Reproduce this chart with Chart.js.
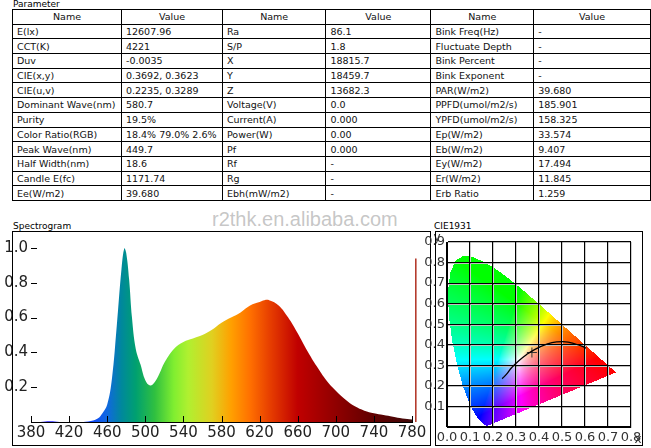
<!DOCTYPE html>
<html>
<head>
<meta charset="utf-8">
<script src="https://cdn.jsdelivr.net/npm/chart.js@4.4.0/dist/chart.umd.min.js"></script>
<style>
  body { margin: 0; width: 651px; height: 448px; background: #fff; position: relative; overflow: hidden; font-family: "DejaVu Sans", Verdana, sans-serif; }
  .lbl { position: absolute; font-size: 9px; color: #000; }
  table { position: absolute; left: 12px; top: 9px; border-collapse: collapse; font-size: 9.5px; }
  td, th { border: 1px solid #000; height: 13.7px; padding: 0 4px; white-space: nowrap; font-weight: normal; text-align: left; color: #111; }
  th { text-align: center; }
  .box { position: absolute; border: 1px solid #000; pointer-events: none; }
  canvas { position: absolute; }
  #wm { position: absolute; left: 212px; top: 208px; font-size: 20px; color: rgba(150,150,150,0.55); font-family: "Liberation Sans", Arial, sans-serif; }
</style>
</head>
<body>
<div class="lbl" style="left:13px;top:-1px">Parameter</div>
<table id="tbl"></table>

<div class="lbl" style="left:13px;top:221px">Spectrogram</div>
<div id="wm">r2thk.en.alibaba.com</div>
<div id="specWrap" style="position:absolute;left:0;top:231px;width:430px;height:214px"><canvas id="spec"></canvas></div>
<div class="box" style="left:12px;top:231px;width:417px;height:213px"></div>

<div class="lbl" style="left:434px;top:221px">CIE1931</div>
<div id="cieWrap" style="position:absolute;left:420px;top:231px;width:231px;height:217px"><canvas id="cie"></canvas></div>
<div class="box" style="left:435px;top:231px;width:206px;height:213px"></div>

<script>
// ---- table data
const colWidths = [100, 92, 95, 97, 94, 109];
const headers = ["Name", "Value", "Name", "Value", "Name", "Value"];
const rows = [
  ["E(lx)", "12607.96", "Ra", "86.1", "Bink Freq(Hz)", "-"],
  ["CCT(K)", "4221", "S/P", "1.8", "Fluctuate Depth", "-"],
  ["Duv", "-0.0035", "X", "18815.7", "Bink Percent", "-"],
  ["CIE(x,y)", "0.3692, 0.3623", "Y", "18459.7", "Bink Exponent", "-"],
  ["CIE(u,v)", "0.2235, 0.3289", "Z", "13682.3", "PAR(W/m2)", "39.680"],
  ["Dominant Wave(nm)", "580.7", "Voltage(V)", "0.0", "PPFD(umol/m2/s)", "185.901"],
  ["Purity", "19.5%", "Current(A)", "0.000", "YPFD(umol/m2/s)", "158.325"],
  ["Color Ratio(RGB)", "18.4% 79.0% 2.6%", "Power(W)", "0.00", "Ep(W/m2)", "33.574"],
  ["Peak Wave(nm)", "449.7", "Pf", "0.000", "Eb(W/m2)", "9.407"],
  ["Half Width(nm)", "18.6", "Rf", "-", "Ey(W/m2)", "17.494"],
  ["Candle E(fc)", "1171.74", "Rg", "-", "Er(W/m2)", "11.845"],
  ["Ee(W/m2)", "39.680", "Ebh(mW/m2)", "-", "Erb Ratio", "1.259"]
];

// ---- spectrum data
const wavelengths = [380,390,400,410,420,430,440,450,455,460,465,470,475,478,480,483,486,490,495,500,505,510,515,520,530,540,550,560,570,580,590,600,610,620,625,630,640,650,660,670,680,690,700,710,720,730,740,750,760,770,780];
const intensity =   [0,0,0.004,0,0,0,0.003,0.02,0.05,0.1,0.25,0.55,0.88,1.0,0.97,0.82,0.6,0.42,0.33,0.24,0.21,0.23,0.28,0.34,0.42,0.46,0.48,0.5,0.53,0.57,0.6,0.63,0.67,0.69,0.70,0.70,0.67,0.6,0.51,0.41,0.32,0.24,0.18,0.13,0.09,0.065,0.05,0.04,0.03,0.02,0.015];
const markerLine = [{x: 784, y: 0}, {x: 784, y: 0.94}];
const specTicks = [380,420,460,500,540,580,620,660,700,740,780];

// ---- CIE data
const locusX = [0.1741,0.1714,0.1644,0.1566,0.1440,0.1355,0.1241,0.1096,0.0913,0.0687,0.0454,0.0235,0.0082,0.0039,0.0139,0.0389,0.0743,0.1142,0.1547,0.1929,0.2296,0.2658,0.3016,0.3373,0.3731,0.4087,0.4441,0.4788,0.5125,0.5448,0.5752,0.6029,0.6270,0.6482,0.6658,0.6915,0.7079,0.7190,0.7260,0.7347];
const locusY = [0.0050,0.0051,0.0109,0.0177,0.0297,0.0399,0.0578,0.0868,0.1327,0.2007,0.2950,0.4127,0.5384,0.6548,0.7502,0.8120,0.8338,0.8262,0.8059,0.7816,0.7543,0.7243,0.6923,0.6589,0.6245,0.5896,0.5547,0.5202,0.4866,0.4544,0.4242,0.3965,0.3725,0.3514,0.3340,0.3083,0.2920,0.2809,0.2740,0.2653];
const planckX = [0.2400,0.2580,0.2807,0.3135,0.3451,0.3805,0.4369,0.4769,0.5266,0.5857,0.6050];
const planckY = [0.2350,0.2560,0.2884,0.3236,0.3516,0.3768,0.4041,0.4137,0.4133,0.3931,0.3840];
const measured = [{x: 0.3692, y: 0.3623}];

// build table
const tbl = document.getElementById('tbl');
let html = '<tr>' + headers.map((h, i) => `<th style="width:${colWidths[i]}px">${h}</th>`).join('') + '</tr>';
rows.forEach(r => { html += '<tr>' + r.map(c => `<td>${c}</td>`).join('') + '</tr>'; });
tbl.innerHTML = html;

const tickFont = { family: 'DejaVu Sans', size: 15 };

// spectrum fill gradient along the wavelength axis
function spectrumFill(context) {
  const chart = context.chart;
  const area = chart.chartArea;
  if (!area) return '#888';
  const xs = chart.scales.x;
  const g = chart.ctx.createLinearGradient(xs.getPixelForValue(380), 0, xs.getPixelForValue(780), 0);
  const stops = [[380,'#3010ff'],[440,'#1040ff'],[460,'#1068e0'],[475,'#00889c'],[490,'#00a070'],[510,'#30c040'],[530,'#80ee30'],[545,'#b0f030'],[570,'#e0d020'],[590,'#ffa000'],[610,'#ff7000'],[630,'#e84000'],[660,'#c00000'],[700,'#900000'],[740,'#600000'],[780,'#400808']];
  stops.forEach(s => g.addColorStop((s[0] - 380) / 400, s[1]));
  return g;
}

// inward tick marks like the original
const innerTicks = {
  id: 'innerTicks',
  afterDraw(chart) {
    const ctx = chart.ctx, xs = chart.scales.x, ys = chart.scales.y;
    ctx.save();
    ctx.strokeStyle = '#000';
    ctx.lineWidth = 1;
    ys.ticks.forEach(t => {
      if (t.value === 0) return;
      const py = Math.round(ys.getPixelForValue(t.value)) + 0.5;
      ctx.beginPath(); ctx.moveTo(xs.left, py); ctx.lineTo(xs.left + 6, py); ctx.stroke();
    });
    xs.ticks.forEach(t => {
      const px = Math.round(xs.getPixelForValue(t.value)) + 0.5;
      ctx.beginPath(); ctx.moveTo(px, ys.bottom); ctx.lineTo(px, ys.bottom - 6); ctx.stroke();
    });
    ctx.restore();
  }
};

new Chart(document.getElementById('spec'), {
  type: 'line',
  data: {
    datasets: [
      { data: wavelengths.map((w, i) => ({ x: w, y: intensity[i] })), fill: 'origin', backgroundColor: spectrumFill, borderWidth: 0, pointRadius: 0, tension: 0.4 },
      { data: markerLine, borderColor: '#b03020', borderWidth: 1.5, pointRadius: 0, fill: false, clip: false }
    ]
  },
  options: {
    responsive: true, maintainAspectRatio: false, animation: false, devicePixelRatio: 1,
    layout: { padding: { top: 17, right: 18, left: 0, bottom: 0 } },
    plugins: { legend: { display: false }, tooltip: { enabled: false } },
    scales: {
      x: {
        type: 'linear', min: 380, max: 780,
        afterBuildTicks: s => { s.ticks = specTicks.map(v => ({ value: v })); },
        afterFit: s => { s.height = 23; },
        grid: { display: false, drawTicks: false },
        border: { display: true, color: '#000' },
        ticks: { font: tickFont, color: '#222', padding: 2, maxRotation: 0, autoSkip: false }
      },
      y: {
        min: 0, max: 1.0,
        afterFit: s => { s.width = 31; },
        grid: { display: false, drawTicks: false },
        border: { display: false },
        ticks: { stepSize: 0.2, font: tickFont, color: '#222', padding: 3, callback: v => v === 0 ? '' : v.toFixed(1) }
      }
    }
  },
  plugins: [innerTicks]
});

// CIE chromaticity fill computed per pixel
function xyToRgb(x, y) {
  const X = x / y, Y = 1, Z = (1 - x - y) / y;
  let r = 3.2406 * X - 1.5372 * Y - 0.4986 * Z;
  let g = -0.9689 * X + 1.8758 * Y + 0.0415 * Z;
  let b = 0.0557 * X - 0.2040 * Y + 1.0570 * Z;
  r = Math.max(r, 0); g = Math.max(g, 0); b = Math.max(b, 0);
  const m = Math.max(r, g, b) || 1;
  // slightly stronger saturation than true sRGB to match the vivid original
  const gam = v => Math.pow(v / m, 0.75);
  return [gam(r) * 255, gam(g) * 255, gam(b) * 255];
}

const gamutFill = {
  id: 'gamutFill',
  beforeDatasetsDraw(chart) {
    const ctx = chart.ctx, xs = chart.scales.x, ys = chart.scales.y, a = chart.chartArea;
    const path = new Path2D();
    locusX.forEach((lx, i) => {
      const px = xs.getPixelForValue(lx), py = ys.getPixelForValue(locusY[i]);
      i === 0 ? path.moveTo(px, py) : path.lineTo(px, py);
    });
    path.closePath();
    const L = Math.floor(a.left), T = Math.floor(a.top);
    const W = Math.ceil(a.right) - L, H = Math.ceil(a.bottom) - T;
    const img = ctx.getImageData(L, T, W, H);
    for (let j = 0; j < H; j++) {
      for (let i = 0; i < W; i++) {
        const px = L + i + 0.5, py = T + j + 0.5;
        if (!ctx.isPointInPath(path, px, py)) continue;
        const c = xyToRgb(xs.getValueForPixel(px), ys.getValueForPixel(py));
        const k = (j * W + i) * 4;
        // keep black grid lines already drawn
        if (img.data[k + 3] > 0 && img.data[k] < 100) continue;
        img.data[k] = c[0]; img.data[k + 1] = c[1]; img.data[k + 2] = c[2]; img.data[k + 3] = 255;
      }
    }
    ctx.putImageData(img, L, T);
  }
};

const cieFont = { family: 'DejaVu Sans', size: 13 };
new Chart(document.getElementById('cie'), {
  type: 'scatter',
  data: {
    datasets: [
      { data: planckX.map((x, i) => ({ x, y: planckY[i] })), showLine: true, borderColor: '#000', borderWidth: 1.3, pointRadius: 0, tension: 0.4 },
      { data: measured, pointStyle: 'cross', pointRadius: 5, borderColor: '#333', borderWidth: 1 }
    ]
  },
  options: {
    responsive: true, maintainAspectRatio: false, animation: false, devicePixelRatio: 1,
    layout: { padding: { top: 11, right: 20, left: 0, bottom: 0 } },
    plugins: { legend: { display: false }, tooltip: { enabled: false } },
    scales: {
      x: {
        min: 0, max: 0.8,
        afterFit: s => { s.height = 21; },
        grid: { color: '#000', lineWidth: 1.2, drawTicks: false },
        border: { color: '#000' },
        ticks: { stepSize: 0.1, font: cieFont, color: '#333', padding: 3, maxRotation: 0, autoSkip: false, callback: v => v.toFixed(1) }
      },
      y: {
        min: 0, max: 0.9,
        afterFit: s => { s.width = 27; },
        grid: { color: '#000', lineWidth: 1.2, drawTicks: false },
        border: { color: '#000' },
        ticks: { stepSize: 0.1, font: cieFont, color: '#333', padding: 2, callback: v => v === 0 ? '' : v.toFixed(1) }
      }
    }
  },
  plugins: [gamutFill, {
    id: 'axisNames',
    afterDraw(chart) {
      const ctx = chart.ctx, a = chart.chartArea;
      ctx.save();
      ctx.fillStyle = '#333';
      ctx.font = '12px DejaVu Sans';
      ctx.textAlign = 'center';
      ctx.fillText('y', a.left - 10, a.top - 1);
      ctx.fillText('x', a.right + 7, a.bottom + 16);
      ctx.restore();
    }
  }]
});
</script>
</body>
</html>
